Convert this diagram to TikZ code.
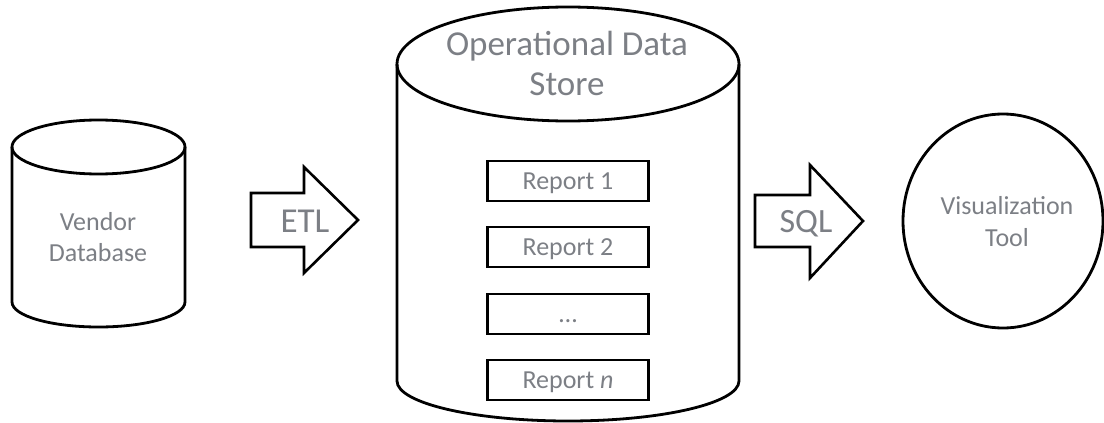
\documentclass[tikz,border=0pt]{standalone}
\usepackage{fontspec}
\setmainfont{Carlito}
\definecolor{labelgray}{RGB}{124,127,133}
\tikzset{
  outline/.style={draw=black, line width=2.8pt, line join=round},
  blockarrow/.style={draw=black, line width=2.6pt, line join=miter, fill=white},
  reportbox/.style={draw=black, line width=2.4pt, minimum width=161pt, minimum height=40pt,
    inner sep=0pt, text height=17pt, text depth=0pt, text=labelgray,
    font=\fontsize{26pt}{31pt}\selectfont},
  label/.style={text=labelgray, inner sep=0pt, anchor=base},
}
\begin{document}
\begin{tikzpicture}[x=1pt, y=-1pt]
\useasboundingbox (0,0) rectangle (1104,423);

% Vendor database cylinder
\draw[outline] (12,147) -- (12,302)
  arc[start angle=180, end angle=360, x radius=86.5pt, y radius=25pt] -- (185,147);
\draw[outline] (98.5,147) ellipse[x radius=86.5pt, y radius=27pt];
\node[label, font=\fontsize{26pt}{31pt}\selectfont] (vendor1) at (98,230) {Vendor};
\node[label, font=\fontsize{26pt}{31pt}\selectfont] (vendor2) at (98,261) {Database};

% ETL block arrow
\draw[blockarrow] (251,193) -- (304,193) -- (304,167) -- (358,220)
  -- (304,273) -- (304,247) -- (251,247) -- cycle;
\node[label, font=\fontsize{35pt}{40pt}\selectfont] (etl) at (305,232) {ETL};

% Operational data store cylinder
\draw[outline] (397,64) -- (397,381)
  arc[start angle=180, end angle=360, x radius=171pt, y radius=40pt] -- (739,64);
\draw[outline] (568,64) ellipse[x radius=171pt, y radius=57pt];
\node[label, font=\fontsize{35pt}{40pt}\selectfont] (ods1) at (567,55) {Operational Data};
\node[label, font=\fontsize{35pt}{40pt}\selectfont] (ods2) at (567,95) {Store};

% Reports held in the store
\node[reportbox] (r1) at (568,181) {Report 1};
\node[reportbox] (r2) at (568,247) {Report 2};
\node[reportbox] (rdots) at (568,314) {\ldots};
\node[reportbox] (rn) at (568,380) {Report \textit{n}};

% SQL block arrow
\draw[blockarrow] (755,195) -- (810,195) -- (810,165) -- (863,221)
  -- (810,278) -- (810,247) -- (755,247) -- cycle;
\node[label, font=\fontsize{34pt}{40pt}\selectfont] (sql) at (806,232) {SQL};

% Visualization tool
\draw[outline] (1003,221) ellipse[x radius=100pt, y radius=107pt];
\node[label, font=\fontsize{26pt}{31pt}\selectfont] (vis1) at (1007,214) {Visualization};
\node[label, font=\fontsize{26pt}{31pt}\selectfont] (vis2) at (1007,246) {Tool};
\end{tikzpicture}
\end{document}
